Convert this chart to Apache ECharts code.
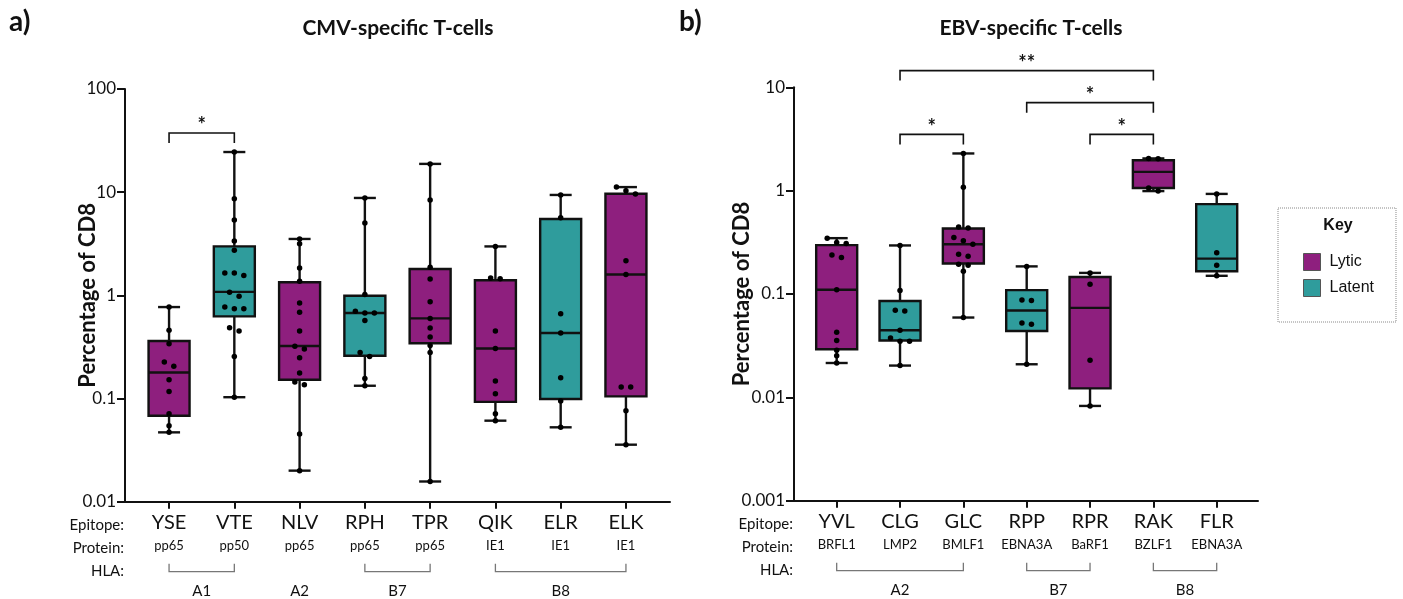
<!DOCTYPE html>
<html><head><meta charset="utf-8">
<script src="https://cdn.jsdelivr.net/npm/echarts@6/dist/echarts.min.js"></script>
<style>html,body{margin:0;padding:0;background:#fff}#c{width:1403px;height:599px}</style>
</head><body><div id="c"></div>
<script>
// ================= DATA =================
// Panel a) CMV-specific T-cells
const cmvEpitopes = ['YSE','VTE','NLV','RPH','TPR','QIK','ELR','ELK'];
const cmvProteins = ['pp65','pp50','pp65','pp65','pp65','IE1','IE1','IE1'];
const cmvKinetics = ['Lytic','Latent','Lytic','Latent','Lytic','Lytic','Latent','Lytic'];
const cmvMin    = [0.047, 0.103, 0.020, 0.133, 0.0157, 0.061, 0.0526, 0.0357];
const cmvQ1     = [0.068, 0.626, 0.152, 0.26, 0.343, 0.0927, 0.099, 0.105];
const cmvMedian = [0.179, 1.08, 0.323, 0.675, 0.598, 0.305, 0.432, 1.59];
const cmvQ3     = [0.361, 2.98, 1.34, 0.99, 1.80, 1.40, 5.5, 9.67];
const cmvMax    = [0.77, 24.5, 3.52, 8.79, 18.8, 2.98, 9.4, 11.2];
const cmvPoints = [
  [0.77, 0.458, 0.34, 0.226, 0.205, 0.152, 0.117, 0.071, 0.0546, 0.047],
  [24.5, 8.65, 5.38, 3.37, 2.73, 1.65, 1.56, 1.65, 1.07, 0.98, 0.743, 0.77, 0.743, 0.486, 0.452, 0.255, 0.103],
  [3.52, 3.17, 1.84, 1.37, 0.843, 0.684, 0.452, 0.321, 0.302, 0.249, 0.177, 0.145, 0.136, 0.0454, 0.020],
  [8.79, 5.03, 1.02, 0.70, 0.675, 0.675, 0.569, 0.28, 0.256, 0.156, 0.133],
  [18.8, 8.4, 1.87, 1.44, 0.869, 0.598, 0.483, 0.395, 0.326, 0.28, 0.0157],
  [2.98, 1.47, 1.45, 0.452, 0.305, 0.148, 0.111, 0.071, 0.061],
  [9.4, 5.66, 0.665, 0.432, 0.159, 0.0948, 0.0526],
  [11.2, 10.3, 9.6, 2.17, 1.59, 0.129, 0.129, 0.0763, 0.0357]
];
const cmvYTicks = [0.01, 0.1, 1, 10, 100];
const cmvHlaNames = ['A1','A2','B7','B8'];
const cmvHlaFrom  = [0, 2, 3, 5];
const cmvHlaTo    = [1, 2, 4, 7];
const cmvSigFrom  = [0];
const cmvSigTo    = [1];
const cmvSigLevel = [37.5];
const cmvSigLabel = ['*'];

// Panel b) EBV-specific T-cells
const ebvEpitopes = ['YVL','CLG','GLC','RPP','RPR','RAK','FLR'];
const ebvProteins = ['BRFL1','LMP2','BMLF1','EBNA3A','BaRF1','BZLF1','EBNA3A'];
const ebvKinetics = ['Lytic','Latent','Lytic','Latent','Lytic','Lytic','Latent'];
const ebvMin    = [0.0215, 0.0203, 0.0592, 0.0209, 0.00826, 0.99, 0.15];
const ebvQ1     = [0.0292, 0.0355, 0.197, 0.0439, 0.0122, 1.06, 0.166];
const ebvMedian = [0.110, 0.0446, 0.303, 0.0692, 0.0734, 1.52, 0.22];
const ebvQ3     = [0.297, 0.0857, 0.431, 0.109, 0.146, 1.97, 0.74];
const ebvMax    = [0.347, 0.295, 2.29, 0.185, 0.16, 2.05, 0.93];
const ebvPoints = [
  [0.347, 0.315, 0.308, 0.238, 0.226, 0.110, 0.0427, 0.0355, 0.0286, 0.0252, 0.0215],
  [0.295, 0.108, 0.0697, 0.0686, 0.0446, 0.0376, 0.0349, 0.0349, 0.0203],
  [2.29, 1.08, 0.446, 0.434, 0.352, 0.327, 0.303, 0.243, 0.232, 0.194, 0.190, 0.166, 0.0592],
  [0.185, 0.0877, 0.0865, 0.0525, 0.051, 0.0209],
  [0.16, 0.124, 0.0229, 0.00826],
  [2.05, 2.03, 1.06, 0.99],
  [0.93, 0.25, 0.19, 0.15]
];
const ebvYTicks = [0.001, 0.01, 0.1, 1, 10];
const ebvHlaNames = ['A2','B7','B8'];
const ebvHlaFrom  = [0, 3, 5];
const ebvHlaTo    = [2, 4, 6];
const ebvSigFrom  = [1, 3, 4, 1];
const ebvSigTo    = [5, 5, 5, 2];
const ebvSigLevel = [14.5, 7.1, 3.5, 3.5];
const ebvSigLabel = ['**', '*', '*', '*'];

// ================= STYLE / LAYOUT =================
const LYTIC = '#8E1F7E', LATENT = '#2F9C9C', INK = '#111';
const FONT = 'Lato';
const BOX_W = 41, CAP_W = 22, LINE_W = 2.4, DROP = 10, JIT_PX = 9.5, CLUSTER_DEC = 0.045;

const panels = [
  {ep: cmvEpitopes, pr: cmvProteins, kin: cmvKinetics, mn: cmvMin, q1: cmvQ1, md: cmvMedian, q3: cmvQ3, mx: cmvMax,
   pts: cmvPoints, yt: cmvYTicks, hN: cmvHlaNames, hF: cmvHlaFrom, hT: cmvHlaTo,
   sF: cmvSigFrom, sT: cmvSigTo, sL: cmvSigLevel, sTxt: cmvSigLabel,
   grid: {left: 125, top: 89, width: 545, height: 412.7}, xMin: -0.675, xMax: 7.675, nameGap: 26},
  {ep: ebvEpitopes, pr: ebvProteins, kin: ebvKinetics, mn: ebvMin, q1: ebvQ1, md: ebvMedian, q3: ebvQ3, mx: ebvMax,
   pts: ebvPoints, yt: ebvYTicks, hN: ebvHlaNames, hF: ebvHlaFrom, hT: ebvHlaTo,
   sF: ebvSigFrom, sT: ebvSigTo, sL: ebvSigLevel, sTxt: ebvSigLabel,
   grid: {left: 794, top: 87.3, width: 464, height: 413.4}, xMin: -0.674, xMax: 6.652, nameGap: 41}
];

function swarm(vals, pxPerUnit) {
  const order = vals.map((v, i) => i).sort((a, b) => vals[b] - vals[a]);
  const off = new Array(vals.length).fill(0);
  let group = [order[0]];
  const flush = () => {
    const n = group.length;
    group.forEach((id, k) => { off[id] = (k - (n - 1) / 2) * JIT_PX / pxPerUnit; });
  };
  for (let j = 1; j < order.length; j++) {
    const prev = order[j - 1], cur = order[j];
    if (Math.log10(vals[prev]) - Math.log10(vals[cur]) < CLUSTER_DEC) group.push(cur);
    else { flush(); group = [cur]; }
  }
  flush();
  return off;
}

function renderBox(params, api) {
  const x = api.value(0);
  const lo = api.coord([x, api.value(1)]);
  const a = api.coord([x, api.value(2)]);
  const m = api.coord([x, api.value(3)]);
  const b = api.coord([x, api.value(4)]);
  const hi = api.coord([x, api.value(5)]);
  const h = BOX_W / 2, c = CAP_W / 2;
  const ls = {stroke: INK, lineWidth: LINE_W};
  return {type: 'group', children: [
    {type: 'line', shape: {x1: lo[0], y1: lo[1], x2: a[0], y2: a[1]}, style: ls},
    {type: 'line', shape: {x1: b[0], y1: b[1], x2: hi[0], y2: hi[1]}, style: ls},
    {type: 'line', shape: {x1: lo[0] - c, y1: lo[1], x2: lo[0] + c, y2: lo[1]}, style: ls},
    {type: 'line', shape: {x1: hi[0] - c, y1: hi[1], x2: hi[0] + c, y2: hi[1]}, style: ls},
    {type: 'rect', shape: {x: b[0] - h, y: b[1], width: BOX_W, height: a[1] - b[1]},
     style: {fill: api.visual('color'), stroke: INK, lineWidth: LINE_W}},
    {type: 'line', shape: {x1: m[0] - h, y1: m[1], x2: m[0] + h, y2: m[1]}, style: ls}
  ]};
}

const grids = [], xAxes = [], yAxes = [], series = [], graphics = [];
const fmtY = v => String(Number(Number(v).toPrecision(3)));

panels.forEach((p, gi) => {
  grids.push(p.grid);
  const idx = p.ep.map((e, i) => i);
  xAxes.push({
    gridIndex: gi, type: 'value', min: p.xMin, max: p.xMax,
    axisLine: {show: true, onZero: false, lineStyle: {color: INK, width: 2}},
    axisTick: {show: true, customValues: idx, length: 7, lineStyle: {color: INK, width: 2}},
    axisLabel: {customValues: idx, margin: 7.5,
      formatter: v => '{e|' + p.ep[Math.round(v)] + '}\n{p|' + p.pr[Math.round(v)] + '}',
      rich: {e: {fontSize: 20, lineHeight: 26, fontFamily: FONT, color: INK},
             p: {fontSize: 13, lineHeight: 22, fontFamily: FONT, color: INK}}},
    splitLine: {show: false}
  });
  yAxes.push({
    gridIndex: gi, type: 'log', logBase: 10, min: p.yt[0], max: p.yt[p.yt.length - 1], splitNumber: p.yt.length - 1,
    axisLine: {show: true, onZero: false, lineStyle: {color: INK, width: 2}},
    axisTick: {show: true, length: 8, lineStyle: {color: INK, width: 2}},
    axisLabel: {fontSize: 17, fontFamily: FONT, color: INK, margin: 9, formatter: fmtY},
    minorTick: {show: false}, splitLine: {show: false},
    name: 'Percentage of CD8', nameLocation: 'middle', nameGap: p.nameGap, nameMoveOverlap: false,
    nameTextStyle: {fontSize: 22, fontWeight: 'bold', fontFamily: FONT, color: INK}
  });
  ['Lytic', 'Latent'].forEach(kind => {
    const data = [];
    idx.forEach(i => { if (p.kin[i] === kind) data.push([i, p.mn[i], p.q1[i], p.md[i], p.q3[i], p.mx[i]]); });
    series.push({type: 'custom', name: kind, xAxisIndex: gi, yAxisIndex: gi, clip: false, z: 2,
      itemStyle: {color: kind === 'Lytic' ? LYTIC : LATENT},
      encode: {x: 0, y: [1, 2, 3, 4, 5]}, renderItem: renderBox, data, silent: true});
  });
  const pxPerUnit = p.grid.width / (p.xMax - p.xMin);
  const sc = [];
  p.pts.forEach((vals, i) => {
    const off = swarm(vals, pxPerUnit);
    vals.forEach((v, k) => sc.push([i + off[k], v]));
  });
  series.push({type: 'scatter', name: 'points' + gi, xAxisIndex: gi, yAxisIndex: gi, z: 5, silent: true,
    symbol: 'circle', symbolSize: 5.5, itemStyle: {color: '#000', opacity: 1}, data: sc});
  // significance brackets
  series.push({type: 'custom', name: 'sig' + gi, xAxisIndex: gi, yAxisIndex: gi, clip: false, z: 6, silent: true,
    encode: {x: [0, 1], y: 2},
    data: p.sF.map((f, k) => [f, p.sT[k], p.sL[k]]),
    renderItem: (params, api) => {
      const a = api.coord([api.value(0), api.value(2)]);
      const b = api.coord([api.value(1), api.value(2)]);
      return {type: 'group', children: [
        {type: 'polyline', shape: {points: [[a[0], a[1] + DROP], a, b, [b[0], b[1] + DROP]]},
         style: {stroke: INK, lineWidth: 1.6, fill: null}},
        {type: 'text', x: (a[0] + b[0]) / 2, y: a[1] - 7,
         style: {text: p.sTxt[params.dataIndex], align: 'center', verticalAlign: 'middle',
                 font: 'bold 20px ' + FONT, fill: INK}}
      ]};
    }});
  // HLA groups below the axis
  const yMin = p.yt[0];
  series.push({type: 'custom', name: 'hla' + gi, xAxisIndex: gi, yAxisIndex: gi, clip: false, z: 6, silent: true,
    encode: {x: [0, 1], y: 2},
    data: p.hF.map((f, k) => [f, p.hT[k], yMin]),
    renderItem: (params, api) => {
      const a = api.coord([api.value(0), yMin]);
      const b = api.coord([api.value(1), yMin]);
      const kids = [];
      if (api.value(1) > api.value(0)) {
        kids.push({type: 'polyline', shape: {points: [[a[0], a[1] + 62], [a[0], a[1] + 70], [b[0], b[1] + 70], [b[0], b[1] + 62]]},
          style: {stroke: '#777', lineWidth: 1.3, fill: null}});
      }
      kids.push({type: 'text', x: (a[0] + b[0]) / 2, y: a[1] + 89,
        style: {text: p.hN[params.dataIndex], align: 'center', verticalAlign: 'middle', font: '15px ' + FONT, fill: INK}});
      return {type: 'group', children: kids};
    }});
  // row headers
  const hx = p.grid.left - 1, by = p.grid.top + p.grid.height;
  [['Epitope:', 23], ['Protein:', 46], ['HLA:', 69]].forEach(([t, dy]) => {
    graphics.push({type: 'text', x: hx, y: by + dy,
      style: {text: t, align: 'right', verticalAlign: 'middle', font: '15px ' + FONT, fill: INK}});
  });
});

const titleStyle = {fontFamily: FONT, fontWeight: 'bold', color: INK};
const option = {
  animation: false,
  backgroundColor: '#fff',
  title: [
    {text: 'a)', left: 9, top: 8, padding: 0, textStyle: Object.assign({fontSize: 28}, titleStyle)},
    {text: 'b)', left: 679, top: 8, padding: 0, textStyle: Object.assign({fontSize: 28}, titleStyle)},
    {text: 'CMV-specific T-cells', left: 398, top: 18, padding: 0, textAlign: 'center', textStyle: Object.assign({fontSize: 21}, titleStyle)},
    {text: 'EBV-specific T-cells', left: 1031, top: 18, padding: 0, textAlign: 'center', textStyle: Object.assign({fontSize: 21}, titleStyle)},
    {text: 'Key', left: 1338, top: 218, padding: 0, textAlign: 'center',
     textStyle: {fontFamily: 'Liberation Sans', fontWeight: 'bold', fontSize: 16, color: INK}}
  ],
  legend: {
    data: ['Lytic', 'Latent'], orient: 'vertical', left: 1278, top: 208, padding: [45, 22, 25, 25],
    itemWidth: 17, itemHeight: 17, itemGap: 8, icon: 'rect', selectedMode: false,
    borderColor: '#888', borderWidth: 1, borderType: 'dotted',
    itemStyle: {borderColor: '#555', borderWidth: 1},
    textStyle: {fontFamily: 'Liberation Sans', fontSize: 16, color: INK, padding: [0, 0, 0, 4]}
  },
  grid: grids, xAxis: xAxes, yAxis: yAxes, series: series, graphic: graphics
};
const chart = echarts.init(document.getElementById('c'), null, {renderer: 'canvas'});
chart.setOption(option);
</script></body></html>
